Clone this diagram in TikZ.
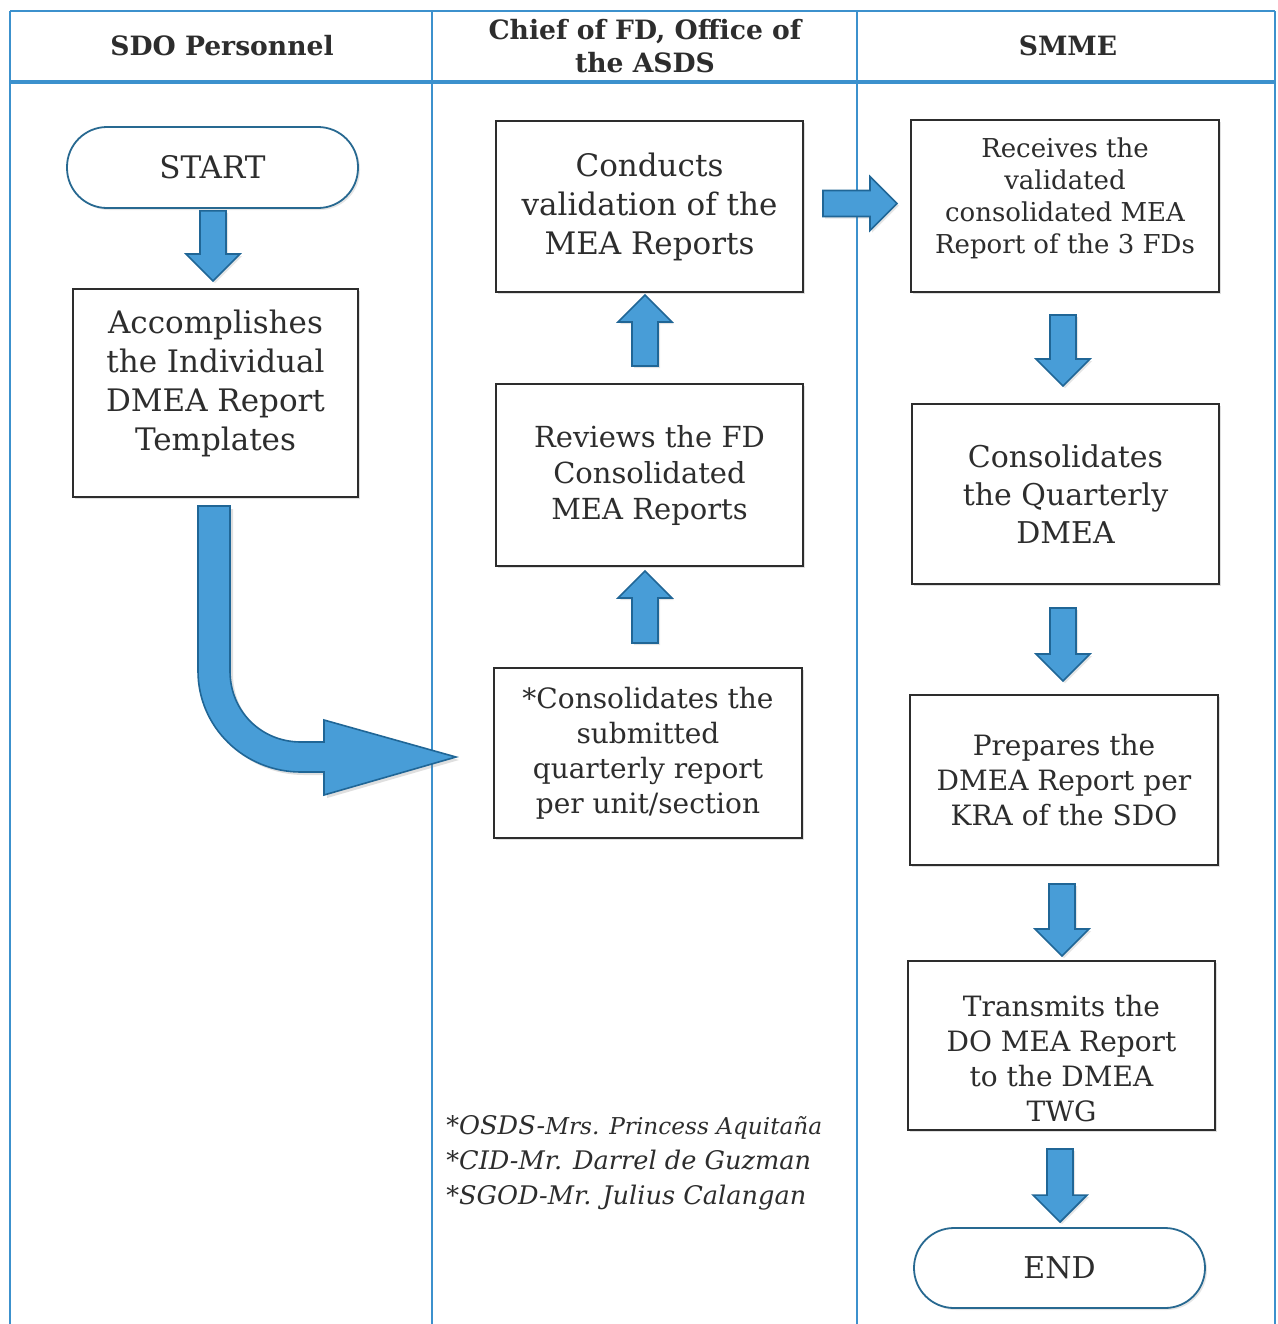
\documentclass[tikz,border=0pt]{standalone}
\usepackage{fontspec}
\setmainfont{DejaVu Serif}
\usetikzlibrary{calc,shadows}
\definecolor{lane}{RGB}{60,145,205}
\definecolor{arrfill}{RGB}{72,157,215}
\definecolor{arrdraw}{RGB}{32,102,150}
\definecolor{termdraw}{RGB}{40,105,145}
\definecolor{boxdraw}{RGB}{45,45,45}
\definecolor{txt}{RGB}{45,45,45}
\tikzset{
  procbox/.style={draw=boxdraw, line width=1pt, fill=white, inner sep=0pt, align=center, text=txt,
    drop shadow={shadow xshift=1.2pt, shadow yshift=-1.2pt, opacity=0.25}},
  termbox/.style={draw=termdraw, line width=0.9pt, fill=white, inner sep=0pt, align=center, text=txt,
    rounded corners=20pt, drop shadow={shadow xshift=1pt, shadow yshift=-1pt, opacity=0.2}},
  headtxt/.style={font=\bfseries\fontsize{13.3}{16.5}\selectfont, text=txt, align=center},
  blockarrow/.style={draw=arrdraw, fill=arrfill, line width=0.8pt, line join=miter,
    drop shadow={shadow xshift=1pt, shadow yshift=-1pt, opacity=0.2},
    to path={let \p1=(\tikztostart), \p2=(\tikztotarget),
      \n1={atan2(\y2-\y1,\x2-\x1)}, \n2={veclen(\x2-\x1,\y2-\y1)} in
      ([shift={(\p1)},rotate=\n1]0pt,-6.5pt)
      -- ([shift={(\p1)},rotate=\n1]\n2*1pt-13.5pt,-6.5pt)
      -- ([shift={(\p1)},rotate=\n1]\n2*1pt-13.5pt,-13.5pt)
      -- ([shift={(\p1)},rotate=\n1]\n2*1pt,0pt)
      -- ([shift={(\p1)},rotate=\n1]\n2*1pt-13.5pt,13.5pt)
      -- ([shift={(\p1)},rotate=\n1]\n2*1pt-13.5pt,6.5pt)
      -- ([shift={(\p1)},rotate=\n1]0pt,6.5pt) -- cycle}},
}
\begin{document}
\begin{tikzpicture}[x=0.5pt,y=-0.5pt]
\useasboundingbox (0,0) rectangle (1278,1324);
\fill[white] (0,0) rectangle (1278,1324);
% swimlane frame
\draw[lane, line width=1.4pt] (10,11) -- (1275,11);
\draw[lane, line width=1.8pt] (10,82) -- (1275,82);
\draw[lane, line width=1pt] (10,11) -- (10,1324);
\draw[lane, line width=1pt] (432,11) -- (432,1324);
\draw[lane, line width=1pt] (857,11) -- (857,1324);
\draw[lane, line width=1pt] (1275,11) -- (1275,1324);
% headers
\node[headtxt] (h1) at (222,46) {SDO Personnel};
\node[headtxt] (h2) at (645,46) {Chief of FD, Office of\\the ASDS};
\node[headtxt] (h3) at (1068,46) {SMME};
% lane 1
\node[termbox, minimum width=145.5pt, minimum height=40.5pt,
  font=\fontsize{15.5}{19.5}\selectfont] (start) at (212.5,167.5) {START};
\node[procbox, minimum width=142.5pt, minimum height=104pt,
  font=\fontsize{15.5}{19.5}\selectfont] (acc) at (215.5,393)
  {Accomplishes\\the Individual\\DMEA Report\\Templates\rule[-12.6pt]{0pt}{12.6pt}};
% lane 2
\node[procbox, minimum width=153.5pt, minimum height=85.5pt,
  font=\fontsize{15.5}{19.5}\selectfont] (cond) at (649.5,206.5)
  {Conducts\\validation of the\\MEA Reports};
\node[procbox, minimum width=153.5pt, minimum height=91pt,
  font=\fontsize{14.5}{18}\selectfont] (rev) at (649.5,475)
  {Reviews the FD\\Consolidated\\MEA Reports};
\node[procbox, minimum width=154pt, minimum height=85pt,
  font=\fontsize{14}{17.5}\selectfont] (cons) at (648,753)
  {*Consolidates the\\submitted\\quarterly report\\per unit/section};
\node[anchor=north west, inner sep=0pt, align=left, text=txt,
  font=\itshape\fontsize{12.8}{17.5}\selectfont] (note) at (446,1115)
  {*OSDS-{\fontsize{11.6}{17.5}\selectfont Mrs. Princess Aquitaña}\\
   *CID-Mr. Darrel de Guzman\\
   *SGOD-Mr. Julius Calangan};
% lane 3
\node[procbox, minimum width=154pt, minimum height=86pt,
  font=\fontsize{13}{16}\selectfont] (recv) at (1065,206)
  {Receives the\\validated\\consolidated MEA\\Report of the 3 FDs\rule[-10pt]{0pt}{10pt}};
\node[procbox, minimum width=153.5pt, minimum height=90pt,
  font=\fontsize{15}{19}\selectfont] (consq) at (1065.5,494)
  {Consolidates\\the Quarterly\\DMEA};
\node[procbox, minimum width=154pt, minimum height=85pt,
  font=\fontsize{14}{17.5}\selectfont] (prep) at (1064,780)
  {Prepares the\\DMEA Report per\\KRA of the SDO};
\node[procbox, minimum width=153.5pt, minimum height=84.5pt,
  font=\fontsize{14}{17.5}\selectfont] (trans) at (1061.5,1045.5)
  {\rule{0pt}{23.6pt}Transmits the\\DO MEA Report\\to the DMEA\\TWG};
\node[termbox, minimum width=145.5pt, minimum height=40pt,
  font=\fontsize{15}{19}\selectfont] (end) at (1059.5,1268) {END};
% connector end points
\coordinate (a1s) at ([shift={(0.5,2)}]start.south);
\coordinate (a1e) at ([shift={(-2.5,-7)}]acc.north);
\coordinate (a2s) at ([shift={(-3,-24)}]cons.north);
\coordinate (a2e) at ([shift={(-4.5,4)}]rev.south);
\coordinate (a3s) at ([shift={(-4.5,-17)}]rev.north);
\coordinate (a3e) at ([shift={(-4.5,2)}]cond.south);
\coordinate (a4s) at ([shift={(19,-3)}]cond.east);
\coordinate (a4e) at ([shift={(-13,-2.5)}]recv.west);
\coordinate (a5s) at ([shift={(-2,22)}]recv.south);
\coordinate (a5e) at ([shift={(-2.5,-17)}]consq.north);
\coordinate (a6s) at ([shift={(-2.5,23)}]consq.south);
\coordinate (a6e) at ([shift={(-1,-13)}]prep.north);
\coordinate (a7s) at ([shift={(-2,18)}]prep.south);
\coordinate (a7e) at ([shift={(0.5,-4)}]trans.north);
\coordinate (a8s) at ([shift={(-1.5,18)}]trans.south);
\coordinate (a8e) at ([shift={(0.5,-5)}]end.north);
% straight block arrows
\draw[blockarrow] (a1s) to (a1e);
\draw[blockarrow] (a2s) to (a2e);
\draw[blockarrow] (a3s) to (a3e);
\draw[blockarrow] (a4s) to (a4e);
\draw[blockarrow] (a5s) to (a5e);
\draw[blockarrow] (a6s) to (a6e);
\draw[blockarrow] (a7s) to (a7e);
\draw[blockarrow] (a8s) to (a8e);
% curved block arrow from acc to cons
\coordinate (bt) at ([shift={(-37,4)}]cons.west);
\draw[draw=arrdraw, fill=arrfill, line width=0.8pt, line join=miter,
      drop shadow={shadow xshift=1.5pt, shadow yshift=-1.5pt, opacity=0.25}]
  ([shift={(-17.5,8)}]acc.south) -- ([shift={(14.5,8)}]acc.south)
  -- ([shift={(14.5,173)}]acc.south)
  .. controls ([shift={(14.5,213)}]acc.south) and ([shift={(-195,-15)}]bt) .. ([shift={(-155,-15)}]bt)
  -- ([shift={(-132,-15)}]bt) -- ([shift={(-132,-37)}]bt) -- (bt)
  -- ([shift={(-132,38)}]bt) -- ([shift={(-132,15)}]bt) -- ([shift={(-155,15)}]bt)
  .. controls ([shift={(-212,15)}]bt) and ([shift={(-17.5,229)}]acc.south) .. ([shift={(-17.5,173)}]acc.south)
  -- cycle;
\end{tikzpicture}
\end{document}
